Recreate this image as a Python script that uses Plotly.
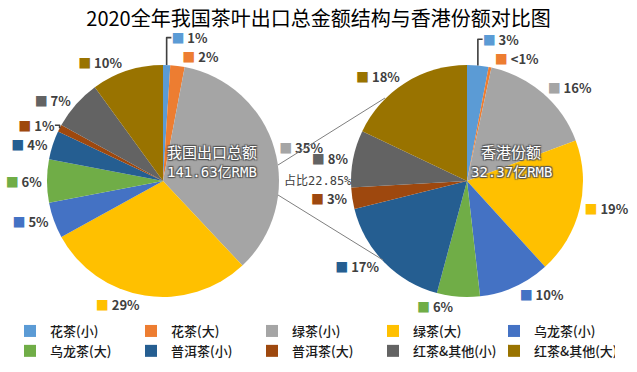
import plotly.graph_objects as go

categories = ["花茶(小)", "花茶(大)", "绿茶(小)", "绿茶(大)", "乌龙茶(小)",
              "乌龙茶(大)", "普洱茶(小)", "普洱茶(大)", "红茶&其他(小)", "红茶&其他(大)"]
china_share = [1, 2, 35, 29, 5, 6, 4, 1, 7, 10]
hk_share = [3, 0.4, 16, 19, 10, 6, 17, 3, 8, 18]
colors = ["#5B9BD5", "#ED7D31", "#A5A5A5", "#FFC000", "#4472C4",
          "#70AD47", "#255E91", "#9E480E", "#636363", "#997300"]

title_text = "2020全年我国茶叶出口总金额结构与香港份额对比图"
china_total = ["我国出口总额", "141.63亿RMB"]
hk_total = ["香港份额", "32.37亿RMB"]
ratio_text = "占比22.85%"

W, H = 637, 372
FONT = "Noto Sans CJK SC, Microsoft YaHei, sans-serif"
MONO = "DejaVu Sans Mono, Noto Sans CJK SC, monospace"


def labels_for(vals):
    out = []
    for v, c in zip(vals, colors):
        p = "<1%" if v < 1 else f"{round(v)}%"
        out.append(f"<span style='color:{c}'>■</span> <b>{p}</b>")
    return out


def domain(cx, cy, r):
    return dict(x=[(cx - r) / W, (cx + r) / W], y=[1 - (cy + r) / H, 1 - (cy - r) / H])


fig = go.Figure()
for vals, cx in [(china_share, 163), (hk_share, 467)]:
    fig.add_trace(go.Pie(
        labels=categories, values=vals, sort=False, direction="clockwise", rotation=0,
        marker=dict(colors=colors, line=dict(width=0)),
        text=labels_for(vals), textinfo="text", textposition="outside",
        textfont=dict(family=FONT, size=13, color="#404040"),
        domain=domain(cx, 181, 116), hoverinfo="label+value", showlegend=True,
    ))

shadow = "1px 1px 1px #555, -1px -1px 1px #555, 1px -1px 1px #555, -1px 1px 1px #555"
for (l1, l2), cx in [(china_total, 212), (hk_total, 511)]:
    fig.add_annotation(x=cx / W, y=1 - 151 / H, xref="paper", yref="paper", text=l1,
                       xanchor="center", yanchor="middle", showarrow=False,
                       font=dict(family=FONT, size=15, color="white", shadow=shadow))
    fig.add_annotation(x=cx / W, y=1 - 172 / H, xref="paper", yref="paper", text=l2,
                       xanchor="center", yanchor="middle", showarrow=False,
                       font=dict(family=MONO, size=14, color="white", shadow=shadow))
fig.add_annotation(x=318 / W, y=1 - 180 / H, xref="paper", yref="paper", text=ratio_text,
                   xanchor="center", yanchor="middle", showarrow=False,
                   font=dict(family=MONO, size=12, color="#404040"))

for (x0, y0, x1, y1) in [(278, 165, 385, 98), (278, 195, 383, 260)]:
    fig.add_shape(type="line", xref="paper", yref="paper",
                  x0=x0 / W, y0=1 - y0 / H, x1=x1 / W, y1=1 - y1 / H,
                  line=dict(color="#7F7F7F", width=1))

fig.update_layout(
    width=W, height=H,
    margin=dict(l=0, r=0, t=0, b=0),
    paper_bgcolor="white", plot_bgcolor="white",
    title=dict(text=title_text, x=0.5, xanchor="center", y=1 - 19 / H, yanchor="middle",
               font=dict(family=FONT, size=20, color="#000000")),
    legend=dict(orientation="h", x=10 / W, y=1 - 316 / H, xanchor="left", yanchor="top",
                entrywidth=76, entrywidthmode="pixels", traceorder="normal",
                font=dict(family=FONT, size=13, color="#1a1a1a", weight=500),
                itemclick=False, tracegroupgap=0),
)

fig.write_html("out.html", config={"displayModeBar": False},
               post_script="document.body.style.margin='0';")
